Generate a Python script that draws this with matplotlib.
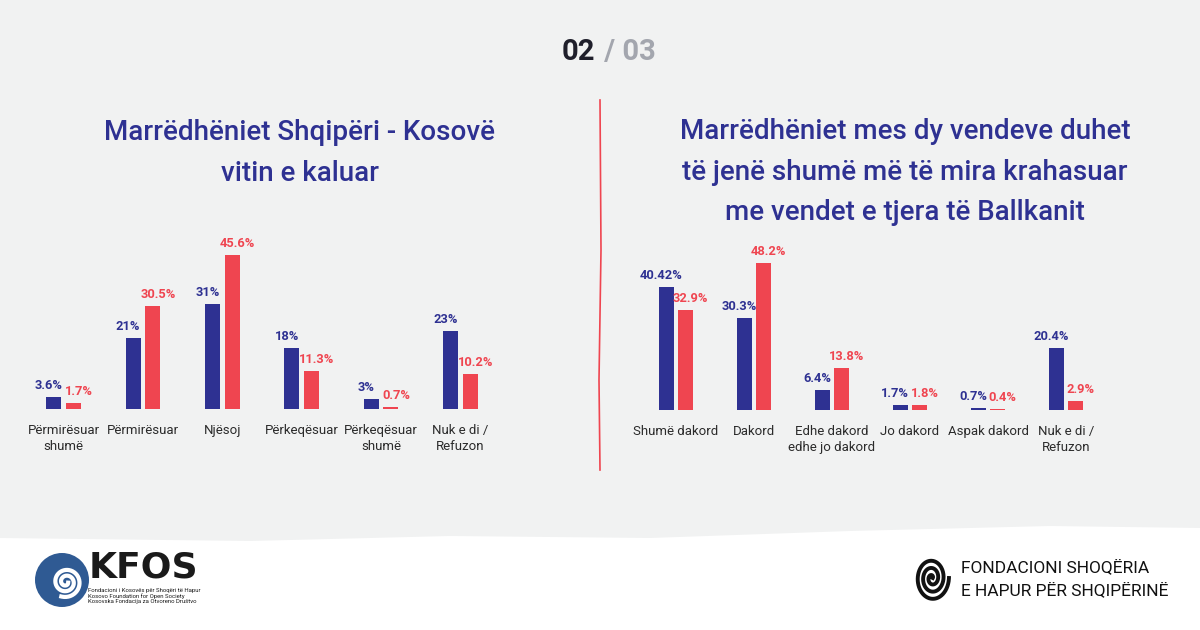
import numpy as np
import matplotlib.pyplot as plt
from matplotlib.patches import Polygon, Circle

plt.rcParams['font.family'] = ['Roboto', 'DejaVu Sans']

# data
left_title = "Marrëdhëniet Shqipëri - Kosovë\nvitin e kaluar"
left_cats = ["Përmirësuar\nshumë", "Përmirësuar", "Njësoj", "Përkeqësuar",
             "Përkeqësuar\nshumë", "Nuk e di /\nRefuzon"]
left_navy = [3.6, 21, 31, 18, 3, 23]
left_red = [1.7, 30.5, 45.6, 11.3, 0.7, 10.2]

right_title = "Marrëdhëniet mes dy vendeve duhet\ntë jenë shumë më të mira krahasuar\nme vendet e tjera të Ballkanit"
right_cats = ["Shumë dakord", "Dakord", "Edhe dakord\nedhe jo dakord", "Jo dakord",
              "Aspak dakord", "Nuk e di /\nRefuzon"]
right_navy = [40.42, 30.3, 6.4, 1.7, 0.7, 20.4]
right_red = [32.9, 48.2, 13.8, 1.8, 0.4, 2.9]

NAVY = '#2e3192'
RED = '#ef4550'
GREY_BG = '#f1f2f2'
TXT = '#2b2b2b'

W, H = 1200, 630
fig = plt.figure(figsize=(12, 6.3), dpi=100, facecolor='white')

bg = fig.add_axes([0, 0, 1, 1])
bg.set_xlim(0, W)
bg.set_ylim(H, 0)
bg.axis('off')
bg.add_patch(Polygon([(0, 0), (W, 0), (W, 528), (1050, 526), (850, 531), (650, 538),
                      (450, 536), (250, 541), (0, 538)], closed=True,
                     facecolor=GREY_BG, edgecolor='none'))

# page counter
bg.text(595, 52, "02", ha='right', va='center', fontsize=21, fontweight='bold', color='#1f1f2b')
bg.text(597, 52, " / 03", ha='left', va='center', fontsize=21, fontweight='bold', color='#a3a6ae')

# divider
bg.plot([600, 601, 599, 600], [100, 250, 380, 470], color=RED, lw=1.2)

# titles
bg.text(300, 153, left_title, ha='center', va='center', fontsize=20, color=NAVY,
        fontweight='medium', fontstretch='condensed', linespacing=1.62)
bg.text(905, 172, right_title, ha='center', va='center', fontsize=20, color=NAVY,
        fontweight='medium', fontstretch='condensed', linespacing=1.62)


def make_panel(left, width, base, height, cats, navy, red, ymax):
    ax = fig.add_axes([left / W, (H - base) / H, width / W, height / H])
    ax.set_facecolor('none')
    x = np.arange(len(cats))
    b1 = ax.bar(x - 0.125, navy, width=0.19, color=NAVY)
    b2 = ax.bar(x + 0.125, red, width=0.19, color=RED)
    for bars, c, dx in ((b1, NAVY, -5), (b2, RED, 5)):
        for rect, v in zip(bars, bars.datavalues):
            ax.annotate(f'{v:g}%', (rect.get_x() + rect.get_width() / 2, v),
                        xytext=(dx, 5), textcoords='offset pixels',
                        ha='center', va='bottom', color=c, fontsize=9.3,
                        fontweight='bold')
    ax.set_xlim(-0.5, len(cats) - 0.5)
    ax.set_ylim(0, ymax)
    ax.set_xticks(x)
    ax.set_xticklabels(cats, fontsize=9.5, color=TXT, linespacing=1.3,
                       fontstretch='condensed')
    ax.tick_params(axis='x', length=0, pad=11)
    ax.set_yticks([])
    for s in ax.spines.values():
        s.set_visible(False)
    return ax


make_panel(24, 476, 409, 203, left_cats, left_navy, left_red, 60)
make_panel(637, 468, 410, 183, right_cats, right_navy, right_red, 60)

# KFOS logo
bg.add_patch(Circle((62, 580), 27, facecolor='#2f5a93', edgecolor='none'))
t = np.linspace(0.3, 4.6 * np.pi, 300)
r = 2.2 + 3.2 * t / np.pi
bg.plot(66 + r * np.cos(t) * 0.9, 582 + r * np.sin(t) * 0.9, color='white', lw=3)
bg.text(89, 567, "KFOS", ha='left', va='center', fontsize=26, fontweight='bold',
        color='#1a1a1a', family=['DejaVu Sans'])
bg.text(88, 596, "Fondacioni i Kosovës për Shoqëri të Hapur\nKosovo Foundation for Open Society\nKosovska Fondacija za Otvoreno Društvo",
        ha='left', va='center', fontsize=4.3, color='#1a1a1a', linespacing=1.0)

# FSHH logo
t = np.linspace(0, 6 * np.pi, 500)
r = 1.0 + 3.6 * t / np.pi
bg.plot(932 + r * np.cos(t) * 0.75, 578 - r * np.sin(t), color='#111111', lw=2.8)
bg.text(961, 567, "FONDACIONI SHOQËRIA", ha='left', va='center', fontsize=12.5, color='#111111')
bg.text(961, 590, "E HAPUR PËR SHQIPËRINË", ha='left', va='center', fontsize=12.5, color='#111111')

fig.savefig('out.png', dpi=100, facecolor='white')
